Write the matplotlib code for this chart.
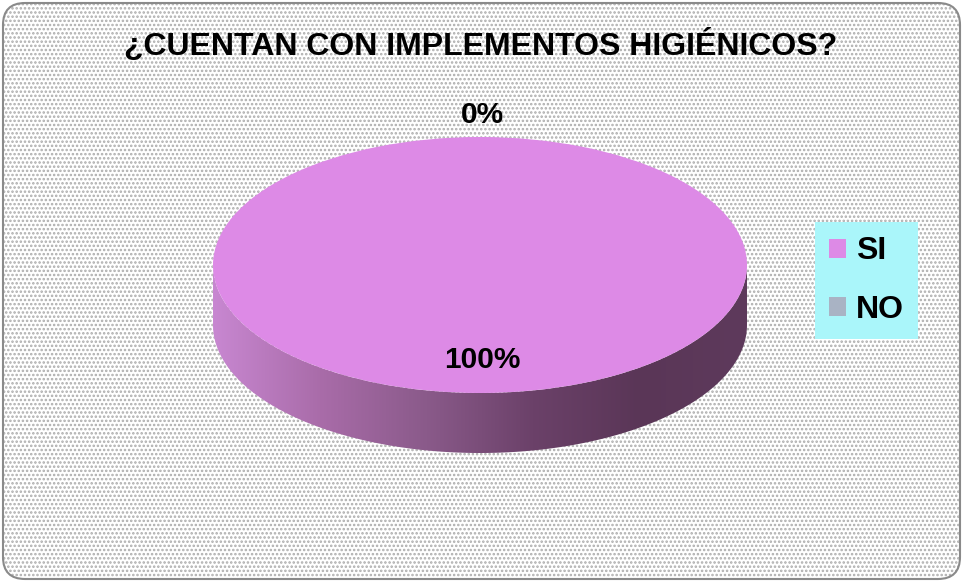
import numpy as np
import matplotlib.pyplot as plt
from matplotlib.patches import FancyBboxPatch, Polygon
from matplotlib.colors import LinearSegmentedColormap

plt.rcParams['font.family'] = ['Liberation Sans', 'DejaVu Sans']
plt.rcParams['hatch.linewidth'] = 1.2

# data
title = "¿CUENTAN CON IMPLEMENTOS HIGIÉNICOS?"
categories = ["SI", "NO"]
values = [100, 0]
colors = ["#dd8ae6", "#a9b3c4"]

W, H = 963, 582
fig = plt.figure(figsize=(W / 100, H / 100), dpi=100)

# background: dotted panel with rounded border (pixel coords)
bg = fig.add_axes([0, 0, 1, 1])
bg.set_xlim(0, W)
bg.set_ylim(H, 0)
bg.axis('off')
bg.add_patch(FancyBboxPatch((3, 3), W - 6, H - 6,
                            boxstyle="round,pad=0,rounding_size=22",
                            facecolor='white', edgecolor='#acacac',
                            hatch='....', linewidth=0))
bg.add_patch(FancyBboxPatch((3, 3), W - 6, H - 6,
                            boxstyle="round,pad=0,rounding_size=22",
                            fill=False, edgecolor='#8a8a8a', linewidth=1.5))
bg.text(481, 46, title, ha='center', va='center',
        fontsize=23, fontweight='bold', color='black')

# pie axes, stretched so the unit circle becomes the top ellipse
cx, cy, a, b = 480, 265, 267, 128
depth = 60
pax = fig.add_axes([0, 0, 1, 1])
pax.patch.set_alpha(0)

wedges, _ = pax.pie(values, colors=colors, startangle=90, counterclock=False,
                    radius=1, center=(0, 0), wedgeprops=dict(linewidth=0))

# side of the 3D disc
d = depth / b
t = np.linspace(np.pi, 2 * np.pi, 200)
top = np.c_[np.cos(t), np.sin(t)]
bot = np.c_[np.cos(t[::-1]), np.sin(t[::-1]) - d]
side = Polygon(np.vstack([top, bot]), closed=True,
               facecolor='none', edgecolor='none')
pax.add_patch(side)
side_cmap = LinearSegmentedColormap.from_list(
    "side", ["#c887d1", "#a96ca9", "#8a5a8a", "#6b4169", "#5a3657", "#5e3a5c"])
grad = np.linspace(0, 1, 256).reshape(1, -1)
im = pax.imshow(grad, cmap=side_cmap, extent=(-1, 1, -1 - d, 0),
                aspect='auto', zorder=0.5)
im.set_clip_path(side)

pax.set_aspect('auto')
pax.set_xlim(-cx / a, (W - cx) / a)
pax.set_ylim(-(H - cy) / b, cy / b)
pax.axis('off')

# percentage labels
total = sum(values)
for w, v in zip(wedges, values):
    ang = np.deg2rad((w.theta1 + w.theta2) / 2)
    r = 0.74 if v / total > 0.5 else 1.17
    pax.text(r * np.cos(ang) + 0.01, r * np.sin(ang),
             f"{v / total * 100:.0f}%", ha='center', va='center',
             fontsize=21.5, fontweight='bold')

leg = pax.legend(wedges, categories, loc='center',
                 bbox_to_anchor=(866.5 / W, 1 - 280.5 / H),
                 bbox_transform=fig.transFigure,
                 frameon=True, fancybox=False, facecolor='#aaf6fa',
                 edgecolor='none', framealpha=1,
                 prop=dict(weight='bold', size=23),
                 handlelength=0.55, handleheight=0.55, labelspacing=0.88,
                 borderpad=0.45, handletextpad=0.3, borderaxespad=0)

fig.savefig("out.png", dpi=100)
